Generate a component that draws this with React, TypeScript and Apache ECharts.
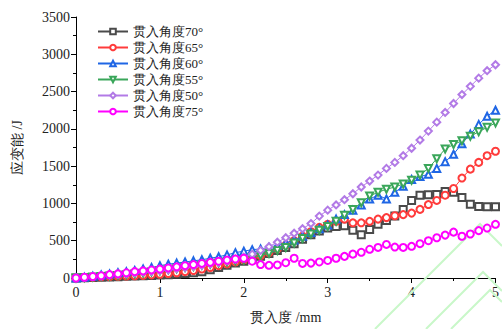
import React, { useEffect, useRef } from "react";
import * as echarts from "echarts";

const xValues = [0,0.1,0.2,0.3,0.4,0.5,0.6,0.7,0.8,0.9,1,1.1,1.2,1.3,1.4,1.5,1.6,1.7,1.8,1.9,2,2.1,2.2,2.3,2.4,2.5,2.6,2.7,2.8,2.9,3,3.1,3.2,3.3,3.4,3.5,3.6,3.7,3.8,3.9,4,4.1,4.2,4.3,4.4,4.5,4.6,4.7,4.8,4.9,5];

const angle70 = [0,3,6,10,14,18,22,26,30,35,40,45,50,60,70,85,110,140,170,200,225,250,290,330,370,410,460,520,580,630,670,690,700,640,580,650,720,770,830,920,1040,1110,1115,1120,1160,1150,1080,990,960,955,955];
const angle65 = [0,5,10,15,18,22,26,30,35,42,50,60,70,85,100,120,140,165,190,215,245,270,300,340,390,440,500,560,620,680,720,760,790,740,740,760,790,810,835,850,870,920,985,1040,1110,1200,1340,1460,1550,1640,1700];
const angle60 = [0,10,25,40,55,70,85,100,120,140,165,185,200,215,230,245,265,285,310,340,360,380,390,410,440,470,510,560,610,660,710,790,850,910,980,1060,1110,1060,1150,1230,1320,1360,1390,1470,1560,1660,1800,1930,2060,2170,2250];
const angle55 = [0,5,12,20,28,35,45,55,65,80,95,110,125,140,155,170,185,200,215,228,240,270,300,330,370,410,470,530,590,640,690,760,840,920,1010,1100,1150,1190,1220,1260,1310,1380,1470,1600,1730,1790,1840,1900,1960,2020,2080];
const angle50 = [0,8,18,28,38,50,60,70,80,90,100,110,125,140,155,170,190,210,230,255,280,320,370,420,480,540,600,660,730,830,910,980,1050,1130,1220,1300,1380,1470,1550,1640,1740,1850,1970,2090,2220,2340,2460,2570,2680,2780,2860];
const angle75 = [0,10,20,30,45,55,70,85,95,108,120,135,150,165,180,195,210,225,240,255,265,225,180,170,175,205,265,195,200,215,235,265,290,320,345,385,410,450,415,410,425,460,500,540,575,615,560,590,635,670,720];

const seriesNames = ["贯入角度70°", "贯入角度65°", "贯入角度60°", "贯入角度55°", "贯入角度50°", "贯入角度75°"];
const seriesColors = ["#4a4a4a", "#ff3b3b", "#1f66e5", "#3aa65a", "#b27ae6", "#ff00ff"];
const seriesSymbols = ["emptyRect", "emptyCircle", "emptyTriangle", "emptyTriangle", "emptyDiamond", "emptyCircle"];
const seriesRotate = [0, 0, 0, 180, 0, 0];
const seriesData = [angle70, angle65, angle60, angle55, angle50, angle75];

const xTicks = [0, 1, 2, 3, 4, 5];
const yTicks = [0, 500, 1000, 1500, 2000, 2500, 3000, 3500];

const FONT = "'Times New Roman', 'Liberation Serif', serif";

export default function App() {
  const ref = useRef<HTMLDivElement>(null);
  useEffect(() => {
    if (!ref.current) return;
    const chart = echarts.init(ref.current, undefined, { renderer: "svg" });
    const series = seriesData.map((vals, i) => ({
      name: seriesNames[i],
      type: "line",
      data: xValues.map((x, j) => [x, vals[j]]),
      symbol: seriesSymbols[i],
      symbolRotate: seriesRotate[i],
      symbolSize: 7,
      showSymbol: true,
      lineStyle: { width: 1, color: seriesColors[i] },
      itemStyle: { color: seriesColors[i], borderWidth: 1 },
      z: 3 + i,
    }));
    chart.setOption({
      animation: false,
      backgroundColor: "#ffffff",
      grid: { left: 76, right: 5, top: 17, bottom: 48, containLabel: false },
      legend: {
        orient: "vertical",
        left: 92,
        top: 20,
        itemWidth: 30,
        itemHeight: 7,
        itemGap: 3,
        data: seriesNames,
        textStyle: { fontFamily: FONT, fontSize: 13, color: "#222" },
      },
      xAxis: {
        type: "value",
        min: xTicks[0],
        max: xTicks[xTicks.length - 1],
        interval: 1,
        name: "贯入度 /mm",
        nameLocation: "middle",
        nameGap: 32,
        nameTextStyle: { fontFamily: FONT, fontSize: 14, color: "#222" },
        axisLine: { show: true, lineStyle: { color: "#000", width: 1 } },
        axisTick: { show: true, length: 5, lineStyle: { color: "#000" } },
        minorTick: { show: true, splitNumber: 2, length: 3, lineStyle: { color: "#000" } },
        splitLine: { show: false },
        axisLabel: { fontFamily: FONT, fontSize: 14, color: "#222", margin: 7, formatter: (v: number) => String(v) },
      },
      yAxis: {
        type: "value",
        min: yTicks[0],
        max: yTicks[yTicks.length - 1],
        interval: 500,
        name: "应变能 /J",
        nameLocation: "middle",
        nameGap: 52,
        nameRotate: 90,
        nameTextStyle: { fontFamily: FONT, fontSize: 14, color: "#222" },
        axisLine: { show: true, lineStyle: { color: "#000", width: 1 } },
        axisTick: { show: true, length: 5, lineStyle: { color: "#000" } },
        minorTick: { show: true, splitNumber: 2, length: 3, lineStyle: { color: "#000" } },
        splitLine: { show: false },
        axisLabel: { fontFamily: FONT, fontSize: 14, color: "#222", margin: 6, formatter: (v: number) => String(v) },
      },
      graphic: [
        { type: "polyline", z: 1, shape: { points: [[375, 329], [480, 224], [502, 246]] }, style: { stroke: "#c9f7c9", lineWidth: 2, fill: "none" } },
        { type: "polyline", z: 1, shape: { points: [[426, 329], [483, 272], [502, 291]] }, style: { stroke: "#c9f7c9", lineWidth: 2, fill: "none" } },
        { type: "polyline", z: 1, shape: { points: [[451, 329], [490, 290], [502, 302]] }, style: { stroke: "#c9f7c9", lineWidth: 2, fill: "none" } },
      ],
      series,
    });
    return () => chart.dispose();
  }, []);
  return <div ref={ref} style={{ width: 502, height: 329, position: "absolute", left: 0, top: 0 }} />;
}
